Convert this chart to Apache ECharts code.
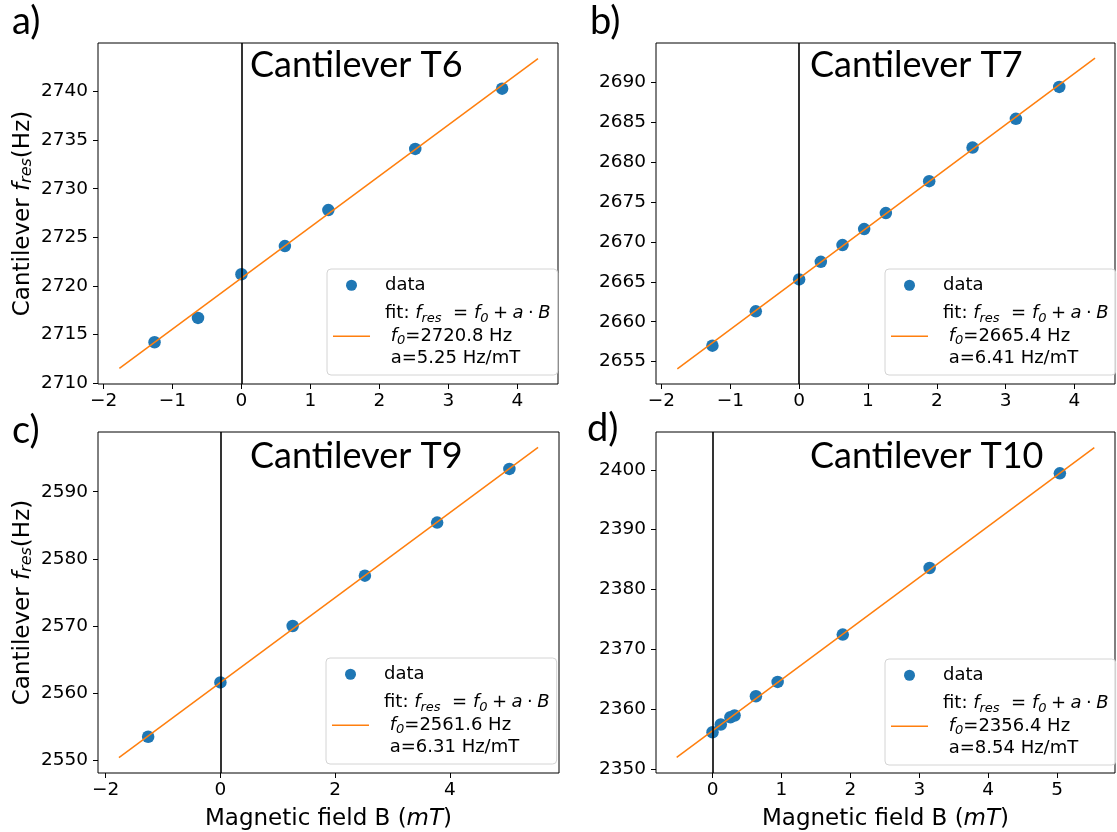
<!DOCTYPE html>
<html>
<head>
<meta charset="utf-8">
<script src="https://cdn.jsdelivr.net/npm/echarts@6/dist/echarts.min.js"></script>
<style>
html,body{margin:0;padding:0;background:#fff;}
#chart{width:1117px;height:832px;}
</style>
</head>
<body>
<div id="chart"></div>
<script>
// ---- data ----
const panelLabels = ['a)', 'b)', 'c)', 'd)'];
const panelTitles = ['Cantilever T6', 'Cantilever T7', 'Cantilever T9', 'Cantilever T10'];

const xA = [-1.26, -0.63, 0, 0.63, 1.26, 2.52, 3.78];
const yA = [2714.2, 2716.7, 2721.2, 2724.1, 2727.8, 2734.1, 2740.3];
const xB = [-1.26, -0.63, 0, 0.315, 0.63, 0.945, 1.26, 1.89, 2.52, 3.15, 3.78];
const yB = [2657.0, 2661.3, 2665.3, 2667.5, 2669.6, 2671.6, 2673.6, 2677.6, 2681.8, 2685.4, 2689.4];
const xC = [-1.26, 0, 1.26, 2.52, 3.78, 5.04];
const yC = [2553.5, 2561.6, 2570.0, 2577.5, 2585.4, 2593.4];
const xD = [0, 0.12, 0.26, 0.32, 0.63, 0.945, 1.89, 3.15, 5.04];
const yD = [2356.2, 2357.5, 2358.7, 2359.0, 2362.2, 2364.6, 2372.5, 2383.6, 2399.4];

// fit line end points
const fitXA = [-1.77, 4.3];   const fitYA = [2711.5, 2743.4];
const fitXB = [-1.77, 4.3];   const fitYB = [2654.1, 2693.0];
const fitXC = [-1.77, 5.54];  const fitYC = [2550.4, 2596.6];
const fitXD = [-0.52, 5.54];  const fitYD = [2352.0, 2403.7];

// fit parameters shown in legends
const fitF0 = ['2720.8', '2665.4', '2561.6', '2356.4'];
const fitSlope = ['5.25', '6.41', '6.31', '8.54'];

// tick labels
const xTicksA = [-2, -1, 0, 1, 2, 3, 4];
const yTicksA = [2710, 2715, 2720, 2725, 2730, 2735, 2740];
const xTicksB = [-2, -1, 0, 1, 2, 3, 4];
const yTicksB = [2655, 2660, 2665, 2670, 2675, 2680, 2685, 2690];
const xTicksC = [-2, 0, 2, 4];
const yTicksC = [2550, 2560, 2570, 2580, 2590];
const xTicksD = [0, 1, 2, 3, 4, 5];
const yTicksD = [2350, 2360, 2370, 2380, 2390, 2400];

// axis ranges
const xRanges = [[-2.08, 4.59], [-2.08, 4.59], [-2.135, 5.905], [-0.82, 5.84]];
const yRanges = [[2709.9, 2745.0], [2652.2, 2694.9], [2548.1, 2598.9], [2349.4, 2406.3]];

// ---- layout / styling ----
const grids = [
  {left: 98, top: 43, width: 460, height: 341},
  {left: 656, top: 43, width: 459, height: 341},
  {left: 98, top: 432, width: 461, height: 341},
  {left: 656, top: 432, width: 459, height: 342}
];
const legendPos = [[327, 269], [885, 269], [326, 658], [885, 659]];
const labelPos = [[12, 3], [590, 3], [12, 412], [587, 410]];
const titlePos = [[250, 47], [810, 47], [250, 438], [810, 438]];

const FONT = 'DejaVu Sans';
const TICK = 18.5;
const LEG = 18;
const AXT = 23;
const BLUE = '#1f77b4', ORANGE = '#ff7f0e';

const xs = [xA, xB, xC, xD], ys = [yA, yB, yC, yD];
const fxs = [fitXA, fitXB, fitXC, fitXD], fys = [fitYA, fitYB, fitYC, fitYD];
const xTicks = [xTicksA, xTicksB, xTicksC, xTicksD];
const yTicks = [yTicksA, yTicksB, yTicksC, yTicksD];

const minus = v => String(v).replace('-', '\u2212');

const richMath = {
  it: {fontFamily: FONT, fontStyle: 'italic', fontSize: LEG, color: '#000', lineHeight: 22.5},
  sub: {fontFamily: FONT, fontStyle: 'italic', fontSize: 13, color: '#000', lineHeight: 12, verticalAlign: 'bottom'},
  n: {fontFamily: FONT, fontSize: LEG, color: '#000', lineHeight: 22.5}
};

const option = {
  animation: false,
  backgroundColor: '#fff',
  title: [],
  grid: [],
  xAxis: [],
  yAxis: [],
  legend: [],
  series: []
};

for (let i = 0; i < 4; i++) {
  option.grid.push(Object.assign({show: true, borderColor: '#000', borderWidth: 1, backgroundColor: 'transparent', containLabel: false}, grids[i]));

  const bottomRow = i >= 2;
  option.xAxis.push({
    type: 'value', gridIndex: i, min: xRanges[i][0], max: xRanges[i][1],
    axisLine: {show: false, onZero: false},
    axisTick: {show: true, length: 5, lineStyle: {color: '#000', width: 1}, customValues: xTicks[i]},
    axisLabel: {show: true, customValues: xTicks[i], formatter: minus, color: '#000', fontFamily: FONT, fontSize: TICK, margin: 8},
    splitLine: {show: false},
    name: bottomRow ? 'Magnetic field B ({it|mT})' : '',
    nameLocation: 'middle', nameGap: 35,
    nameTextStyle: {fontFamily: FONT, fontSize: AXT, color: '#000',
      rich: {it: {fontFamily: FONT, fontStyle: 'italic', fontSize: AXT, color: '#000'}}}
  });
  const leftCol = i % 2 === 0;
  option.yAxis.push({
    type: 'value', gridIndex: i, min: yRanges[i][0], max: yRanges[i][1],
    axisLine: {show: false, onZero: false},
    axisTick: {show: true, length: 5, lineStyle: {color: '#000', width: 1}, customValues: yTicks[i]},
    axisLabel: {show: true, customValues: yTicks[i], formatter: minus, color: '#000', fontFamily: FONT, fontSize: TICK, margin: 10},
    splitLine: {show: false},
    name: leftCol ? 'Cantilever {it|f}{sub|res}(Hz)' : '',
    nameLocation: 'middle', nameGap: 63,
    nameTextStyle: {fontFamily: FONT, fontSize: AXT, color: '#000',
      rich: {
        it: {fontFamily: FONT, fontStyle: 'italic', fontSize: AXT, color: '#000'},
        sub: {fontFamily: FONT, fontStyle: 'italic', fontSize: 16, color: '#000', verticalAlign: 'bottom', lineHeight: 15}
      }}
  });

  option.series.push({
    name: 'data', type: 'scatter', xAxisIndex: i, yAxisIndex: i, z: 2,
    symbol: 'circle', symbolSize: 12.5,
    itemStyle: {color: BLUE, opacity: 1},
    data: xs[i].map((x, k) => [x, ys[i][k]]),
    markLine: {
      silent: true, symbol: 'none', animation: false,
      label: {show: false},
      lineStyle: {color: '#000', width: 1.6, type: 'solid'},
      emphasis: {disabled: true},
      data: [{xAxis: 0}]
    }
  });
  option.series.push({
    name: 'fit', type: 'line', xAxisIndex: i, yAxisIndex: i, z: 3,
    symbol: 'none', showSymbol: false,
    lineStyle: {color: ORANGE, width: 1.5},
    itemStyle: {color: ORANGE},
    data: fxs[i].map((x, k) => [x, fys[i][k]])
  });

  const f0 = fitF0[i], sl = fitSlope[i];
  option.legend.push({
    left: legendPos[i][0], top: legendPos[i][1],
    orient: 'vertical',
    data: [
      {name: 'data', icon: 'circle'},
      {name: 'fit', icon: 'path://M0,0H37V1.5H0Z', itemStyle: {color: ORANGE, borderWidth: 0}}
    ],
    selectedMode: false,
    itemWidth: 37, itemHeight: 11, itemGap: 6,
    padding: [5, 7, 5, 6],
    backgroundColor: 'rgba(255,255,255,0.8)',
    borderColor: '#d4d4d4', borderWidth: 1, borderRadius: 4,
    textStyle: {fontFamily: FONT, fontSize: LEG, color: '#000', padding: [0, 0, 0, 10], lineHeight: 22.5, rich: richMath},
    formatter: name => name === 'data'
      ? '{n|data}'
      : '{n|fit: }{it|f}{sub|res}{n|  = }{it|f}{sub|0}{n|\u2005+\u2005}{it|a}{n|\u2005·\u2005}{it|B}\n{n| }{it|f}{sub|0}{n|=' + f0 + ' Hz}\n{n| a=' + sl + ' Hz/mT}'
  });

  option.title.push({
    text: panelLabels[i], left: labelPos[i][0], top: labelPos[i][1], padding: 0,
    textStyle: {fontFamily: 'Lato', fontWeight: 'normal', fontSize: 38, color: '#000'}
  });
  option.title.push({
    text: panelTitles[i], left: titlePos[i][0], top: titlePos[i][1], padding: 0,
    textStyle: {fontFamily: 'Lato', fontWeight: 'normal', fontSize: 36, color: '#000'}
  });
}

const chart = echarts.init(document.getElementById('chart'), null, {renderer: 'canvas'});
chart.setOption(option);
</script>
</body>
</html>
